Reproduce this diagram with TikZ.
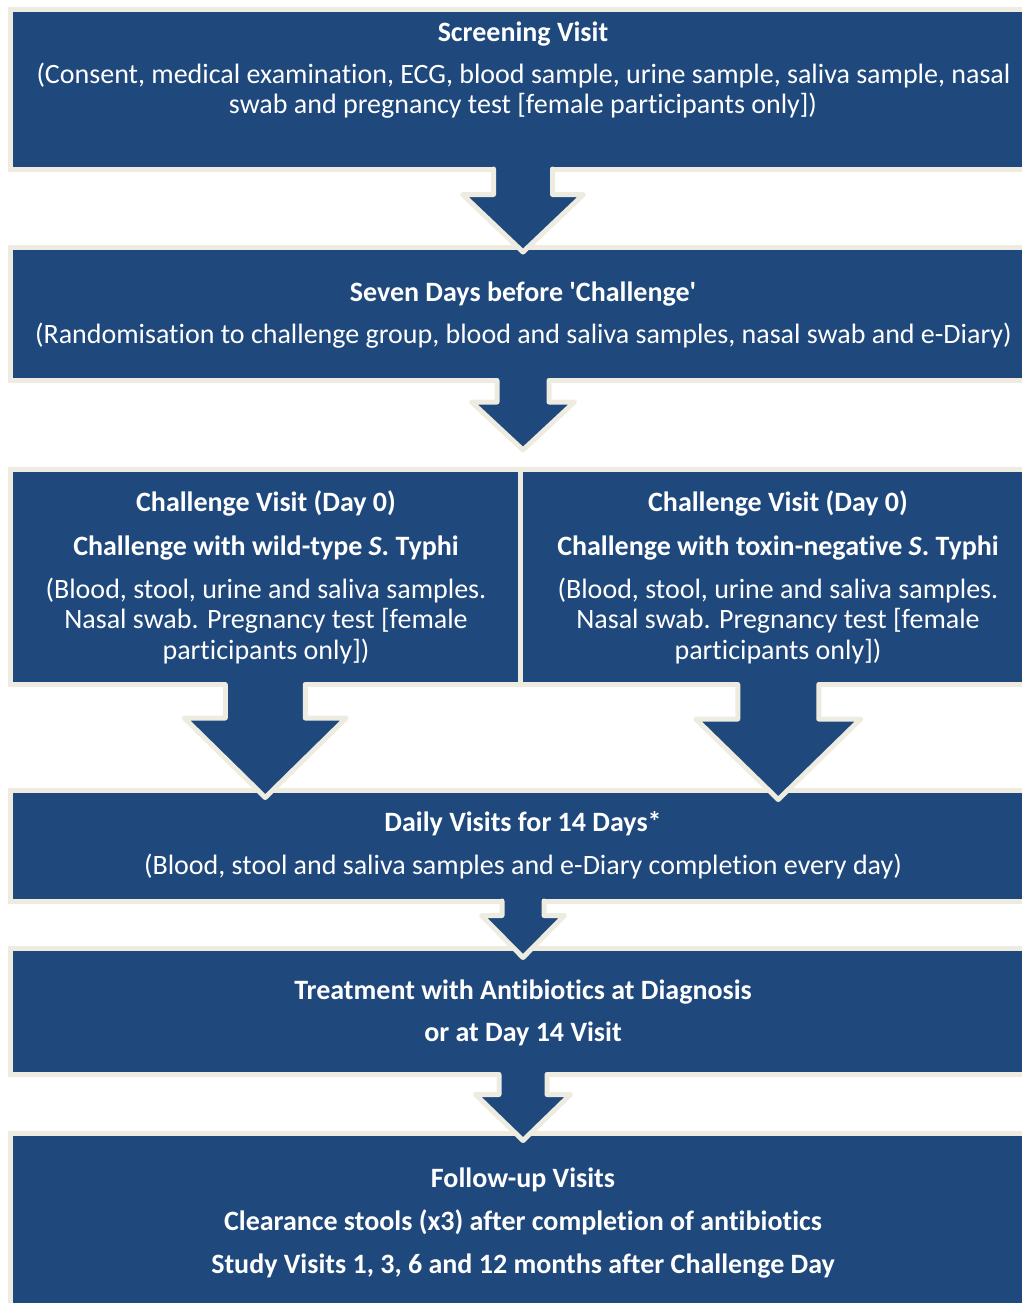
\documentclass[tikz,border=0pt]{standalone}
\usepackage{fontspec}
\setmainfont{Carlito}[Ligatures={TeXOff,NoCommon}]
\definecolor{navy}{RGB}{31,73,125}
\definecolor{beige}{RGB}{238,236,225}
\tikzset{
  box/.style={draw=beige, line width=2.5pt, fill=navy, inner sep=0pt, outer sep=0pt, anchor=north west},
  txt/.style={text=white, anchor=base, inner sep=0pt, font=\fontsize{14pt}{15pt}\selectfont},
  ttl/.style={txt, font=\fontsize{14pt}{15pt}\selectfont\bfseries},
  arrfill/.style={fill=navy},
  arrline/.style={draw=beige, line width=2.5pt, line join=round, line cap=round},
}
% #1 source box, #2 shaft half-width, #3 head half-width, #4 head top depth, #5 tip depth (px)
\newcommand{\blockarr}[5]{%
  \fill[arrfill] (#1.south) +(-#2,-4) -- +(-#2,#4) -- +(-#3,#4) -- +(0,#5) -- +(#3,#4) -- +(#2,#4) -- +(#2,-4) -- cycle;
  \draw[arrline] (#1.south) +(-#2,0) -- +(-#2,#4) -- +(-#3,#4) -- +(0,#5) -- +(#3,#4) -- +(#2,#4) -- +(#2,0);
}
\begin{document}
\begin{tikzpicture}[x=0.5pt,y=-0.5pt]
\useasboundingbox (0,0) rectangle (1022,1303);
\clip (0,0) rectangle (1022,1303);
% boxes
\node[box, minimum width=513pt, minimum height=79.75pt] (b1) at (10,9.5) {};
\node[box, minimum width=513pt, minimum height=66.75pt] (b2) at (10,247) {};
\node[box, minimum width=255.25pt, minimum height=107.5pt] (b3l) at (10,469.5) {};
\node[box, minimum width=257.75pt, minimum height=107.5pt] (b3r) at (520.5,469.5) {};
\node[box, minimum width=513pt, minimum height=55.25pt] (b4) at (10,790.5) {};
\node[box, minimum width=513pt, minimum height=63pt] (b5) at (10,948.5) {};
\node[box, minimum width=513pt, minimum height=93.5pt] (b6) at (10,1133) {};
% arrows
\blockarr{b1}{29.5}{60.5}{25.5}{83}
\blockarr{b2}{26}{51.5}{21.5}{69.5}
\blockarr{b3l}{40}{81}{33.5}{113}
\blockarr{b3r}{40.5}{82.5}{34.5}{115}
\blockarr{b4}{21}{41.5}{14.5}{56.5}
\blockarr{b5}{24}{47.5}{20}{66}
% texts
\node[ttl] (t1a) at (523,41) {Screening Visit};
\node[txt] (t1b) at (523.5,83) {(Consent, medical examination, ECG, blood sample, urine sample, saliva sample, nasal};
\node[txt] (t1c) at (523,113) {swab and pregnancy test [female participants only])};
\node[ttl] (t2a) at (523,301.5) {Seven Days before 'Challenge'};
\node[txt] (t2b) at (523.5,343.5) {(Randomisation to challenge group, blood and saliva samples, nasal swab and e-Diary)};
\node[ttl] (t3la) at (266,511.5) {Challenge Visit (Day 0)};
\node[ttl] (t3lb) at (266,555) {Challenge with wild-type \textit{S}. Typhi};
\node[txt] (t3lc) at (266,598.5) {(Blood, stool, urine and saliva samples.};
\node[txt] (t3ld) at (266,628.5) {Nasal swab. Pregnancy test [female};
\node[txt] (t3le) at (266,659) {participants only])};
\node[ttl] (t3ra) at (778,511.5) {Challenge Visit (Day 0)};
\node[ttl] (t3rb) at (778,555) {Challenge with toxin-negative \textit{S}. Typhi};
\node[txt] (t3rc) at (778,598.5) {(Blood, stool, urine and saliva samples.};
\node[txt] (t3rd) at (778,628.5) {Nasal swab. Pregnancy test [female};
\node[txt] (t3re) at (778,659) {participants only])};
\node[ttl] (t4a) at (523,831.5) {Daily Visits for 14 Days*};
\node[txt] (t4b) at (523,874.5) {(Blood, stool and saliva samples and e-Diary completion every day)};
\node[ttl] (t5a) at (523,999.5) {Treatment with Antibiotics at Diagnosis};
\node[ttl] (t5b) at (523,1041.5) {or at Day 14 Visit};
\node[ttl] (t6a) at (523,1187.5) {Follow-up Visits};
\node[ttl] (t6b) at (523,1230.5) {Clearance stools (x3) after completion of antibiotics};
\node[ttl] (t6c) at (523,1273.5) {Study Visits 1, 3, 6 and 12 months after Challenge Day};
\end{tikzpicture}
\end{document}
